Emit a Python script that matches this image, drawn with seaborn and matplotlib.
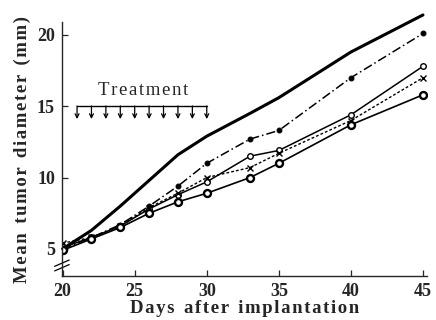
import numpy as np
import pandas as pd
import matplotlib
matplotlib.use("Agg")
import matplotlib.pyplot as plt
import seaborn as sns

# ------------------------------------------------------------------
# Data
# ------------------------------------------------------------------
days = [20, 22, 24, 26, 28, 30, 33, 35, 40, 45]
control = [5.0, 6.3, 8.0, 9.8, 11.6, 12.9, 14.5, 15.6, 18.8, 21.4]
dot_dash = [5.0, 5.8, 6.7, 8.0, 9.4, 11.0, 12.7, 13.3, 17.0, 20.1]
open_circle = [5.1, 5.8, 6.6, 7.8, 8.8, 9.7, 11.5, 11.9, 14.4, 17.8]
cross = [5.4, 5.8, 6.6, 7.9, 8.9, 10.0, 10.7, 11.7, 14.0, 17.0]
ring = [4.9, 5.7, 6.5, 7.5, 8.3, 8.9, 10.0, 11.0, 13.7, 15.8]

treatment_days = [21, 22, 23, 24, 25, 26, 27, 28, 29, 30]
x_ticks = [20, 25, 30, 35, 40, 45]
y_ticks = [5, 10, 15, 20]


def spaced(s):
    # wide letter spacing like the printed figure (hair spaces between letters)
    return "\u200a".join(s)


df = pd.DataFrame({"day": days, "control": control, "dot_dash": dot_dash,
                   "open_circle": open_circle, "cross": cross, "ring": ring})

sns.set_style("ticks")
plt.rcParams["font.family"] = ["Liberation Serif", "DejaVu Serif"]
plt.rcParams["font.weight"] = "bold"

fig = plt.figure(figsize=(4.36, 3.2), dpi=100)
ax = fig.add_axes([0.142, 0.1375, 0.838, 0.7935])

# series
sns.lineplot(data=df, x="day", y="control", ax=ax, color="black", lw=2.2,
             clip_on=False)
sns.lineplot(data=df, x="day", y="dot_dash", ax=ax, color="black", lw=1.1,
             dashes=False, linestyle=(0, (6, 2, 1, 2)), marker="o", markersize=3.5,
             markerfacecolor="black", markeredgecolor="black")
sns.lineplot(data=df, x="day", y="open_circle", ax=ax, color="black", lw=1.1,
             marker="o", markersize=4, markerfacecolor="white",
             markeredgecolor="black", markeredgewidth=1.0)
sns.lineplot(data=df, x="day", y="cross", ax=ax, color="black", lw=1.0,
             linestyle=(0, (2, 1.5)), marker="x", markersize=4.5,
             markeredgecolor="black", markeredgewidth=1.0)
sns.lineplot(data=df, x="day", y="ring", ax=ax, color="black", lw=1.2,
             marker="o", markersize=5, markerfacecolor="white",
             markeredgecolor="black", markeredgewidth=1.7)

# treatment bracket with arrows
ax.plot([treatment_days[0], treatment_days[-1]], [15, 15], color="black", lw=1.0)
for d in treatment_days:
    ax.annotate("", xy=(d, 14.1), xytext=(d, 15.02),
                arrowprops=dict(arrowstyle="->", color="black", lw=0.9,
                                shrinkA=0, shrinkB=0, mutation_scale=7))
ax.text(25.6, 16.1, spaced("Treatment"), ha="center", va="center",
        fontsize=13.5, fontweight="normal")

ax.set_xlim(19.95, 45.3)
ax.set_ylim(3.1, 20.9)
ax.set_xticks(x_ticks)
ax.set_yticks(y_ticks)
ax.tick_params(direction="in", length=4, width=0.9, labelsize=13, pad=5)
for lab in ax.get_xticklabels() + ax.get_yticklabels():
    lab.set_fontweight("bold")
sns.despine(ax=ax)
ax.spines["left"].set_linewidth(1.0)
ax.spines["bottom"].set_linewidth(1.0)

ax.set_xlabel(spaced("Days after implantation").replace("\u200a \u200a", "  "),
              fontsize=13.5, fontweight="bold", labelpad=0)
ax.set_ylabel(spaced("Mean tumor diameter (mm)").replace("\u200a \u200a", "  "),
              fontsize=13.5, fontweight="bold", labelpad=4)

# axis break marks
for dy in (0.0, 0.018):
    ax.plot([-0.02, 0.02], [0.02 + dy, 0.045 + dy], transform=ax.transAxes,
            color="black", lw=0.9, clip_on=False)

fig.savefig("out.png", dpi=100)
